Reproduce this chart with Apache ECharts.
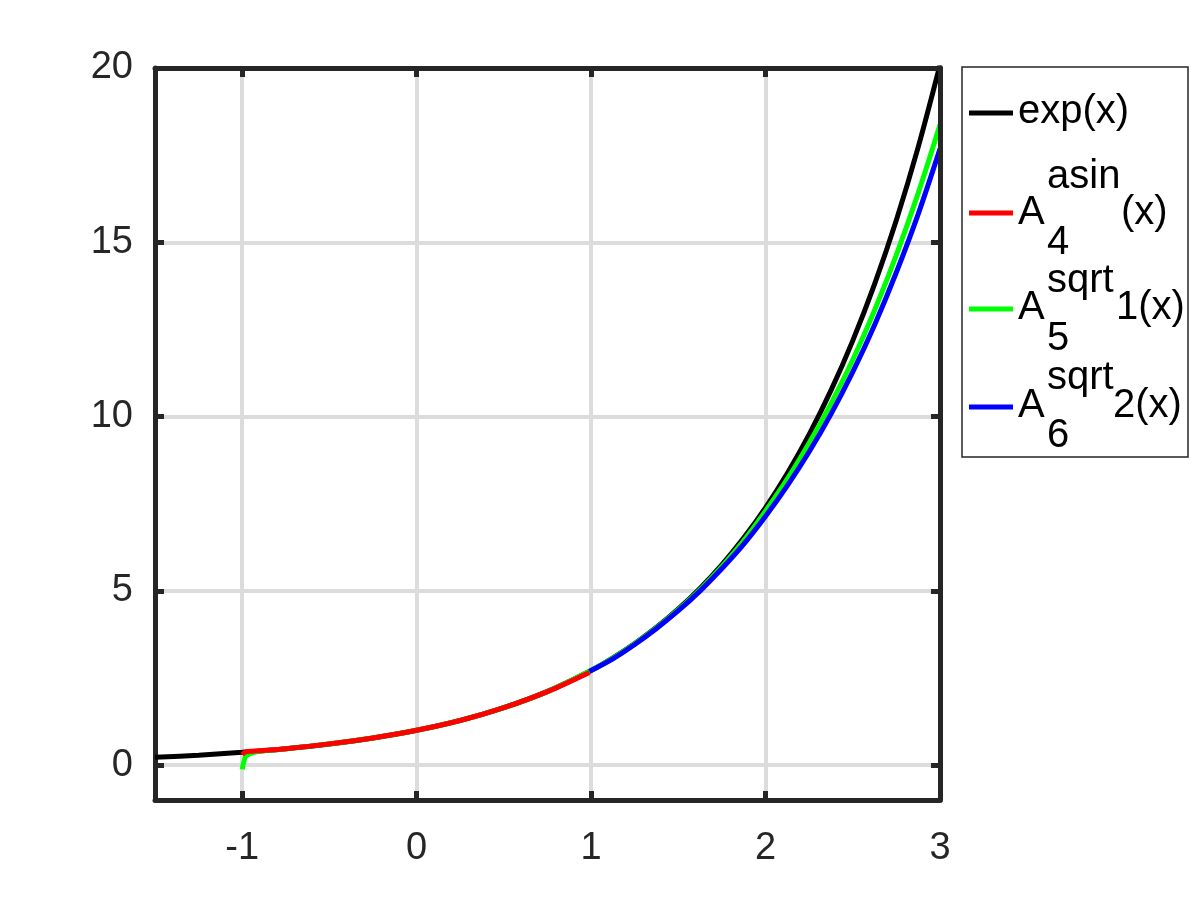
<!DOCTYPE html>
<html>
<head>
<meta charset="utf-8">
<script src="https://cdn.jsdelivr.net/npm/echarts@6/dist/echarts.min.js"></script>
<style>html,body{margin:0;padding:0;background:#fff;}#main{width:1200px;height:900px;}</style>
</head>
<body>
<div id="main"></div>
<script>
// ---- data ----
var xTicks = [-1, 0, 1, 2, 3];
var yTicks = [0, 5, 10, 15, 20];

var xExp = [-1.5, -1.25, -1, -0.75, -0.5, -0.25, 0, 0.25, 0.5, 0.75, 1, 1.125, 1.25, 1.375, 1.5, 1.625, 1.75, 1.875, 2, 2.125, 2.25, 2.375, 2.5, 2.625, 2.75, 2.875, 3];
var yExp = [0.223, 0.287, 0.368, 0.472, 0.607, 0.779, 1.0, 1.284, 1.649, 2.117, 2.718, 3.08, 3.49, 3.955, 4.482, 5.078, 5.755, 6.521, 7.389, 8.373, 9.488, 10.75, 12.18, 13.8, 15.64, 17.73, 20.09];

var xAsin = [-1, -0.98, -0.9, -0.75, -0.5, -0.25, 0, 0.25, 0.5, 0.75, 0.99];
var yAsin = [0.30, 0.38, 0.41, 0.47, 0.61, 0.78, 1.0, 1.28, 1.65, 2.11, 2.66];

var xSqrt1 = [-1, -0.98, -0.95, -0.9, -0.75, -0.5, -0.25, 0, 0.25, 0.5, 0.75, 1, 1.125, 1.25, 1.375, 1.5, 1.625, 1.75, 1.875, 2, 2.125, 2.25, 2.375, 2.5, 2.625, 2.75, 2.875, 3];
var ySqrt1 = [-0.12, 0.25, 0.34, 0.40, 0.47, 0.61, 0.78, 1.0, 1.28, 1.65, 2.11, 2.72, 3.07, 3.48, 3.94, 4.46, 5.04, 5.70, 6.44, 7.29, 8.21, 9.24, 10.37, 11.63, 13.05, 14.64, 16.41, 18.37];

var xSqrt2 = [0.99, 1.125, 1.25, 1.375, 1.5, 1.625, 1.75, 1.875, 2, 2.125, 2.25, 2.375, 2.5, 2.625, 2.75, 2.875, 3];
var ySqrt2 = [2.69, 3.05, 3.46, 3.92, 4.43, 5.00, 5.64, 6.34, 7.14, 8.02, 8.99, 10.07, 11.28, 12.63, 14.14, 15.81, 17.68];

function zip(xs, ys) { return xs.map(function (x, i) { return [x, ys[i]]; }); }

var FONT = 'Liberation Sans';
var AX = '#262626';
var chart = echarts.init(document.getElementById('main'), null, { renderer: 'canvas' });

function mainAxis(pos, min, max, ticks, isX) {
  return {
    type: 'value', position: pos, min: min, max: max,
    axisLine: { show: true, onZero: false, lineStyle: { color: AX, width: 5 } },
    axisTick: { show: true, inside: true, length: 9, customValues: ticks, lineStyle: { color: AX, width: 5 } },
    axisLabel: { show: true, customValues: ticks, fontSize: 38, fontFamily: FONT, color: AX, margin: isX ? 30 : 22 },
    splitLine: { show: true, lineStyle: { color: '#dcdcdc', width: 4 } },
    z: 1
  };
}
function mirrorAxis(pos, min, max, ticks) {
  return {
    type: 'value', position: pos, min: min, max: max,
    axisLine: { show: true, onZero: false, lineStyle: { color: AX, width: 5 } },
    axisTick: { show: true, inside: true, length: 9, customValues: ticks, lineStyle: { color: AX, width: 5 } },
    axisLabel: { show: false },
    splitLine: { show: false },
    z: 10
  };
}

function lineSeries(name, data, color, z) {
  return {
    name: name, type: 'line', data: data, showSymbol: false, symbol: 'none',
    smooth: 0.3, clip: true, z: z,
    lineStyle: { color: color, width: 5 }, itemStyle: { color: color }
  };
}

var LX = 962, LY = 67, LW = 226, LH = 390;
var LF = 40;
function t(text, x, baseline) {
  return { type: 'text', x: x, y: baseline - 14, style: { text: text, font: LF + 'px "' + FONT + '"', fill: '#000', textVerticalAlign: 'middle', verticalAlign: 'middle' } };
}
function legLine(y, color) {
  return { type: 'line', shape: { x1: 969, y1: y, x2: 1013, y2: y }, style: { stroke: color, lineWidth: 5 } };
}

var option = {
  animation: false,
  backgroundColor: '#fff',
  grid: { left: 155, right: 260, top: 68, bottom: 100, containLabel: false },
  xAxis: [mainAxis('bottom', -1.5, 3, xTicks, true), mirrorAxis('top', -1.5, 3, xTicks)],
  yAxis: [mainAxis('left', -1, 20, yTicks, false), mirrorAxis('right', -1, 20, yTicks)],
  series: [
    lineSeries('exp(x)', zip(xExp, yExp), '#000000', 2),
    lineSeries('A4asin(x)', zip(xAsin, yAsin), '#ff0000', 4),
    lineSeries('A5sqrt1(x)', zip(xSqrt1, ySqrt1), '#00ff00', 3),
    lineSeries('A6sqrt2(x)', zip(xSqrt2, ySqrt2), '#0000ff', 5)
  ],
  graphic: [
    { type: 'rect', shape: { x: LX, y: LY, width: LW, height: LH }, style: { fill: '#fff', stroke: AX, lineWidth: 1.5 } },
    legLine(113, '#000000'),
    t('exp(x)', 1018, 126),
    legLine(213, '#ff0000'),
    t('A', 1018, 227), t('asin', 1047, 191), t('4', 1047, 257), t('(x)', 1121, 227),
    legLine(309, '#00ff00'),
    t('A', 1018, 322), t('sqrt', 1047, 295), t('5', 1047, 353), t('1(x)', 1116, 322),
    legLine(407, '#0000ff'),
    t('A', 1018, 420), t('sqrt', 1047, 392), t('6', 1047, 450), t('2(x)', 1113, 420)
  ]
};
chart.setOption(option);
</script>
</body>
</html>
